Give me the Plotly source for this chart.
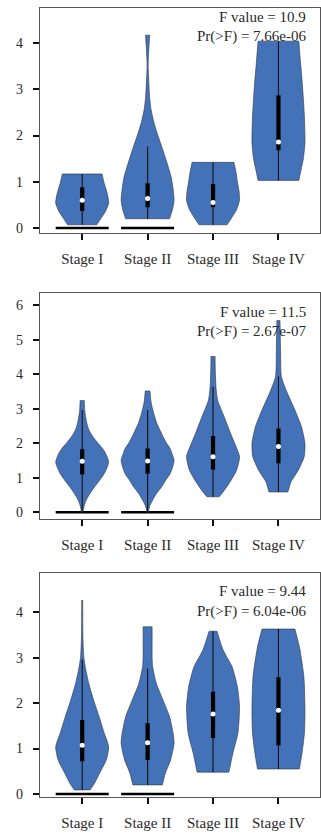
import plotly.graph_objects as go

stages = ["Stage I", "Stage II", "Stage III", "Stage IV"]

# ---- Panel 1 : violin profiles (value levels, relative width) ----
p1_s1_y = [0.07, 0.2, 0.35, 0.54, 0.76, 0.97, 1.17]
p1_s1_w = [0.55, 0.70, 0.87, 1.0, 0.94, 0.83, 0.75]
p1_s2_y = [0.2, 0.4, 0.6, 0.85, 1.1, 1.3, 1.54, 1.8, 2.05, 2.3, 2.56, 2.8, 3.1, 3.5, 3.7, 4.0, 4.17]
p1_s2_w = [0.83, 0.94, 1.0, 0.96, 0.89, 0.79, 0.66, 0.51, 0.36, 0.23, 0.13, 0.08, 0.05, 0.02, 0.03, 0.06, 0.08]
p1_s3_y = [0.07, 0.2, 0.4, 0.6, 0.8, 1.0, 1.2, 1.42]
p1_s3_w = [0.53, 0.68, 0.89, 1.0, 0.98, 0.92, 0.87, 0.79]
p1_s4_y = [1.03, 1.25, 1.5, 1.85, 2.4, 2.8, 3.2, 3.6, 4.04]
p1_s4_w = [0.77, 0.85, 0.94, 1.0, 0.98, 0.94, 0.89, 0.83, 0.77]
p1_q1 = [0.37, 0.45, 0.45, 1.68]
p1_median = [0.60, 0.64, 0.55, 1.86]
p1_q3 = [0.88, 0.97, 0.95, 2.87]
p1_whisker_lo = [0.07, 0.2, 0.07, 1.03]
p1_whisker_hi = [1.17, 1.76, 1.42, 4.04]
p1_f_value = "10.9"
p1_pr_f = "7.66e-06"

# ---- Panel 2 ----
p2_s1_y = [0.0, 0.2, 0.35, 0.55, 0.74, 0.95, 1.12, 1.3, 1.46, 1.65, 1.83, 2.0, 2.2, 2.38, 2.6, 2.87, 3.0, 3.24]
p2_s1_w = [0.02, 0.08, 0.15, 0.30, 0.47, 0.68, 0.83, 0.94, 1.0, 0.92, 0.79, 0.60, 0.40, 0.26, 0.17, 0.11, 0.09, 0.08]
p2_s2_y = [0.0, 0.2, 0.35, 0.55, 0.74, 0.95, 1.12, 1.3, 1.51, 1.7, 1.85, 2.0, 2.2, 2.38, 2.6, 2.87, 3.2, 3.52]
p2_s2_w = [0.02, 0.09, 0.19, 0.34, 0.53, 0.70, 0.85, 0.94, 1.0, 0.92, 0.85, 0.72, 0.58, 0.47, 0.34, 0.23, 0.13, 0.09]
p2_s3_y = [0.45, 0.59, 0.83, 1.22, 1.61, 1.90, 2.29, 2.77, 3.26, 3.64, 4.0, 4.3, 4.52]
p2_s3_w = [0.23, 0.38, 0.60, 0.89, 1.0, 0.87, 0.66, 0.42, 0.17, 0.11, 0.09, 0.08, 0.08]
p2_s4_y = [0.59, 0.88, 1.22, 1.61, 2.0, 2.48, 2.97, 3.45, 3.94, 4.71, 5.56]
p2_s4_w = [0.36, 0.47, 0.75, 0.97, 1.0, 0.87, 0.62, 0.34, 0.11, 0.08, 0.06]
p2_q1 = [1.10, 1.12, 1.24, 1.42]
p2_median = [1.48, 1.49, 1.61, 1.91]
p2_q3 = [1.83, 1.85, 2.21, 2.43]
p2_whisker_lo = [0.0, 0.0, 0.45, 0.59]
p2_whisker_hi = [2.97, 2.97, 3.64, 3.94]
p2_f_value = "11.5"
p2_pr_f = "2.67e-07"

# ---- Panel 3 ----
p3_s1_y = [0.09, 0.24, 0.46, 0.75, 1.04, 1.34, 1.70, 2.07, 2.43, 2.75, 3.02, 3.4, 3.8, 4.26]
p3_s1_w = [0.30, 0.47, 0.66, 0.91, 1.0, 0.83, 0.64, 0.43, 0.25, 0.13, 0.06, 0.03, 0.02, 0.02]
p3_s2_y = [0.2, 0.46, 0.75, 1.12, 1.34, 1.70, 2.07, 2.43, 2.8, 3.0, 3.3, 3.68]
p3_s2_w = [0.56, 0.67, 0.87, 1.0, 0.96, 0.83, 0.58, 0.33, 0.19, 0.17, 0.17, 0.17]
p3_s3_y = [0.48, 0.9, 1.34, 1.92, 2.36, 2.8, 3.17, 3.58]
p3_s3_w = [0.60, 0.75, 0.94, 1.0, 0.92, 0.72, 0.38, 0.15]
p3_s4_y = [0.55, 0.9, 1.34, 1.85, 2.58, 3.24, 3.63]
p3_s4_w = [0.79, 0.89, 0.98, 1.0, 0.96, 0.79, 0.62]
p3_q1 = [0.72, 0.75, 1.23, 1.07]
p3_median = [1.07, 1.13, 1.76, 1.84]
p3_q3 = [1.63, 1.56, 2.25, 2.57]
p3_whisker_lo = [0.09, 0.2, 0.48, 0.55]
p3_whisker_hi = [2.96, 2.76, 3.58, 3.63]
p3_f_value = "9.44"
p3_pr_f = "6.04e-06"

# stages that also carry a flat group at zero
zero_groups = [0, 1]
zero_level = 0.0

# ---- styling / layout constants ----
FONT = "Liberation Serif, Times New Roman, serif"
TEXT = "#2a2a2a"
VIOLIN_FILL = "#4472b8"
VIOLIN_EDGE = "rgba(45,50,60,0.85)"
HALF = 0.405                     # half of the widest violin, in category units
X_RANGE = [-0.645, 3.635]
Y_RANGES = [[-0.108, 4.757], [-0.195, 6.361], [-0.066, 4.862]]
Y_DOMAINS = [[0.7148, 1.0], [0.3523, 0.6388], [0.0, 0.2839]]
Y_TICKS = [[0, 1, 2, 3, 4], [0, 1, 2, 3, 4, 5, 6], [0, 1, 2, 3, 4]]
LABEL_Y = [[0.9886, 0.9645], [0.6147, 0.5894], [0.2611, 0.2357]]

panels = [
    dict(profiles=[(p1_s1_y, p1_s1_w), (p1_s2_y, p1_s2_w), (p1_s3_y, p1_s3_w), (p1_s4_y, p1_s4_w)],
         q1=p1_q1, med=p1_median, q3=p1_q3, lo=p1_whisker_lo, hi=p1_whisker_hi,
         f=p1_f_value, p=p1_pr_f),
    dict(profiles=[(p2_s1_y, p2_s1_w), (p2_s2_y, p2_s2_w), (p2_s3_y, p2_s3_w), (p2_s4_y, p2_s4_w)],
         q1=p2_q1, med=p2_median, q3=p2_q3, lo=p2_whisker_lo, hi=p2_whisker_hi,
         f=p2_f_value, p=p2_pr_f),
    dict(profiles=[(p3_s1_y, p3_s1_w), (p3_s2_y, p3_s2_w), (p3_s3_y, p3_s3_w), (p3_s4_y, p3_s4_w)],
         q1=p3_q1, med=p3_median, q3=p3_q3, lo=p3_whisker_lo, hi=p3_whisker_hi,
         f=p3_f_value, p=p3_pr_f),
]


def violin_outline(i, ys, ws):
    """Closed outline of one violin; corner points are doubled so the
    spline keeps the flat (trimmed) ends square."""
    right = [(i + HALF * w, y) for w, y in zip(ws, ys)]
    left = [(i - HALF * w, y) for w, y in zip(reversed(ws), reversed(ys))]
    pts = [right[0]] + right + [right[-1]] + [left[0]] + left + [left[-1]] + [right[0]]
    return [p[0] for p in pts], [p[1] for p in pts]


fig = go.Figure()

for k, panel in enumerate(panels):
    sfx = "" if k == 0 else str(k + 1)
    xa, ya = "x" + sfx, "y" + sfx

    # flat groups at zero
    for i in zero_groups:
        fig.add_trace(go.Scatter(
            x=[i - HALF, i + HALF], y=[zero_level, zero_level], mode="lines",
            line=dict(color="black", width=2.4), xaxis=xa, yaxis=ya,
            hoverinfo="skip", showlegend=False))

    for i, (ys, ws) in enumerate(panel["profiles"]):
        px, py = violin_outline(i, ys, ws)
        fig.add_trace(go.Scatter(
            x=px, y=py, mode="lines", fill="toself", fillcolor=VIOLIN_FILL,
            line=dict(color=VIOLIN_EDGE, width=0.7, shape="spline", smoothing=0.6,
                      simplify=False),
            xaxis=xa, yaxis=ya, hoverinfo="skip", showlegend=False))

        # whisker
        fig.add_trace(go.Scatter(
            x=[i, i], y=[panel["lo"][i], panel["hi"][i]], mode="lines",
            line=dict(color="#111111", width=1.1), xaxis=xa, yaxis=ya,
            hoverinfo="skip", showlegend=False))
        # interquartile box
        fig.add_trace(go.Scatter(
            x=[i, i], y=[panel["q1"][i], panel["q3"][i]], mode="lines",
            line=dict(color="black", width=4.2), xaxis=xa, yaxis=ya,
            hoverinfo="skip", showlegend=False))
        # median
        fig.add_trace(go.Scatter(
            x=[i], y=[panel["med"][i]], mode="markers",
            marker=dict(color="white", size=5, line=dict(width=0)),
            xaxis=xa, yaxis=ya, hoverinfo="skip", showlegend=False))

    axis_common = dict(showline=True, mirror=True, linecolor="#555555", linewidth=1.2,
                       ticks="outside", ticklen=6, tickwidth=1.5, tickcolor="#111111",
                       showgrid=False, zeroline=False,
                       tickfont=dict(family=FONT, size=15, color=TEXT))
    fig.layout["xaxis" + sfx] = dict(
        axis_common, range=X_RANGE, anchor=ya, domain=[0, 1],
        tickmode="array", tickvals=list(range(len(stages))), ticktext=stages,
        ticklabelstandoff=6)
    fig.layout["yaxis" + sfx] = dict(
        axis_common, range=Y_RANGES[k], anchor=xa, domain=Y_DOMAINS[k],
        tickmode="array", tickvals=Y_TICKS[k], ticklabelstandoff=7,
        tickfont=dict(family=FONT, size=14, color=TEXT))

    for txt, yy in zip(["F value = " + panel["f"], "Pr(>F) = " + panel["p"]], LABEL_Y[k]):
        fig.add_annotation(
            text=txt, xref="paper", yref="paper", x=0.957, y=yy,
            xanchor="right", yanchor="middle", showarrow=False,
            font=dict(family=FONT, size=15, color=TEXT))

fig.update_layout(
    width=321, height=834,
    margin=dict(l=40, r=1, t=8, b=37),
    paper_bgcolor="white", plot_bgcolor="white",
    showlegend=False,
)

fig.write_html("out.html")
